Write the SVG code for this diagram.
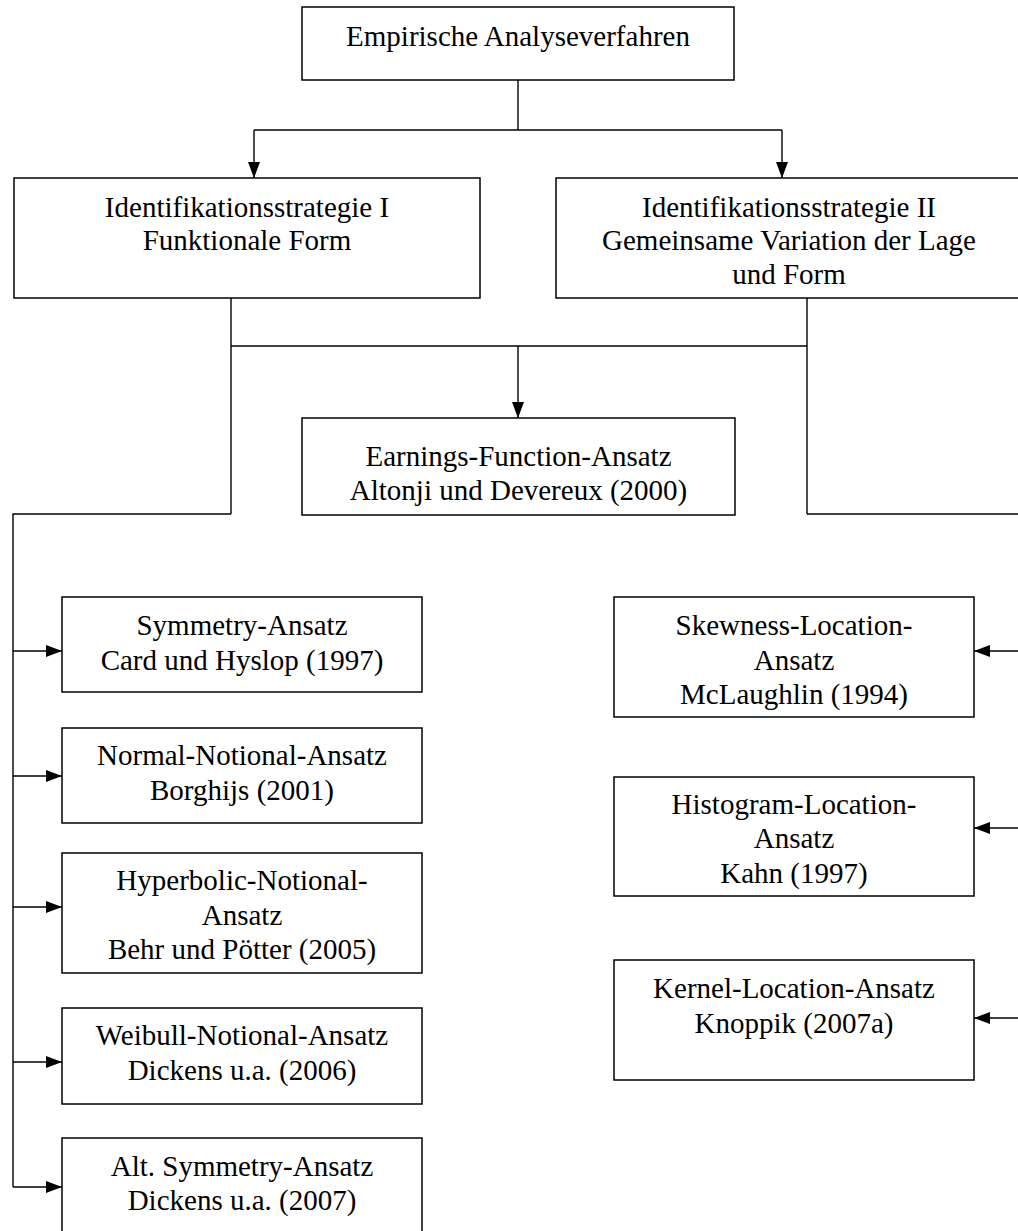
<svg xmlns="http://www.w3.org/2000/svg" width="1018" height="1231" viewBox="0 0 1018 1231">
<style>
.box{fill:#fff;stroke:#000;stroke-width:1.5}
.t{font-family:"Liberation Serif","Times New Roman",serif;font-size:29px;fill:#000;text-anchor:middle}
.c{fill:none;stroke:#000;stroke-width:1.4}
</style>
<defs>
<marker id="ah" markerUnits="userSpaceOnUse" markerWidth="16" markerHeight="12" refX="16" refY="6" orient="auto">
<path d="M0,0 L16,6 L0,12 z" fill="#000"/>
</marker>
</defs>
<rect width="1018" height="1231" fill="#fff"/>
<g id="connectors">
<path class="c" d="M518,80 V130 M254,130 H782"/>
<path class="c" d="M254,130 V178" marker-end="url(#ah)"/>
<path class="c" d="M782,130 V178" marker-end="url(#ah)"/>
<path class="c" d="M231,298 V514 M807,298 V514 M231,346 H807"/>
<path class="c" d="M518,346 V418" marker-end="url(#ah)"/>
<path class="c" d="M231,514 H13 V1187"/>
<path class="c" d="M13,651 H62" marker-end="url(#ah)"/>
<path class="c" d="M13,776 H62" marker-end="url(#ah)"/>
<path class="c" d="M13,907 H62" marker-end="url(#ah)"/>
<path class="c" d="M13,1062 H62" marker-end="url(#ah)"/>
<path class="c" d="M13,1187 H62" marker-end="url(#ah)"/>
<path class="c" d="M807,514 H1023 V1018"/>
<path class="c" d="M1023,651 H974" marker-end="url(#ah)"/>
<path class="c" d="M1023,828 H974" marker-end="url(#ah)"/>
<path class="c" d="M1023,1018 H974" marker-end="url(#ah)"/>
</g>
<g id="n-empirische">
<rect class="box" x="302" y="7" width="432" height="73"/>
<text class="t" x="518" y="45.5">Empirische Analyseverfahren</text>
</g>
<g id="n-ident1">
<rect class="box" x="14" y="178" width="466" height="120"/>
<text class="t" x="247" y="216.5">Identifikationsstrategie I</text>
<text class="t" x="247" y="250">Funktionale Form</text>
</g>
<g id="n-ident2">
<rect class="box" x="556" y="178" width="466" height="120"/>
<text class="t" x="789" y="216.5">Identifikationsstrategie II</text>
<text class="t" x="789" y="250">Gemeinsame Variation der Lage</text>
<text class="t" x="789" y="283.5">und Form</text>
</g>
<g id="n-earnings">
<rect class="box" x="302" y="418" width="433" height="97"/>
<text class="t" x="518.5" y="466">Earnings-Function-Ansatz</text>
<text class="t" x="518.5" y="500">Altonji und Devereux (2000)</text>
</g>
<g id="n-symmetry">
<rect class="box" x="62" y="597" width="360" height="95"/>
<text class="t" x="242" y="635">Symmetry-Ansatz</text>
<text class="t" x="242" y="669.5">Card und Hyslop (1997)</text>
</g>
<g id="n-normal">
<rect class="box" x="62" y="728" width="360" height="95"/>
<text class="t" x="242" y="765">Normal-Notional-Ansatz</text>
<text class="t" x="242" y="799.5">Borghijs (2001)</text>
</g>
<g id="n-hyperbolic">
<rect class="box" x="62" y="853" width="360" height="120"/>
<text class="t" x="242" y="890">Hyperbolic-Notional-</text>
<text class="t" x="242" y="924.5">Ansatz</text>
<text class="t" x="242" y="959">Behr und Pötter (2005)</text>
</g>
<g id="n-weibull">
<rect class="box" x="62" y="1008" width="360" height="96"/>
<text class="t" x="242" y="1045">Weibull-Notional-Ansatz</text>
<text class="t" x="242" y="1079.5">Dickens u.a. (2006)</text>
</g>
<g id="n-altsymmetry">
<rect class="box" x="62" y="1138" width="360" height="100"/>
<text class="t" x="242" y="1175.5">Alt. Symmetry-Ansatz</text>
<text class="t" x="242" y="1210">Dickens u.a. (2007)</text>
</g>
<g id="n-skewness">
<rect class="box" x="614" y="597" width="360" height="120"/>
<text class="t" x="794" y="635">Skewness-Location-</text>
<text class="t" x="794" y="669.5">Ansatz</text>
<text class="t" x="794" y="704">McLaughlin (1994)</text>
</g>
<g id="n-histogram">
<rect class="box" x="614" y="777" width="360" height="119"/>
<text class="t" x="794" y="813.5">Histogram-Location-</text>
<text class="t" x="794" y="848">Ansatz</text>
<text class="t" x="794" y="882.5">Kahn (1997)</text>
</g>
<g id="n-kernel">
<rect class="box" x="614" y="960" width="360" height="120"/>
<text class="t" x="794" y="998">Kernel-Location-Ansatz</text>
<text class="t" x="794" y="1032.5">Knoppik (2007a)</text>
</g>
</svg>
